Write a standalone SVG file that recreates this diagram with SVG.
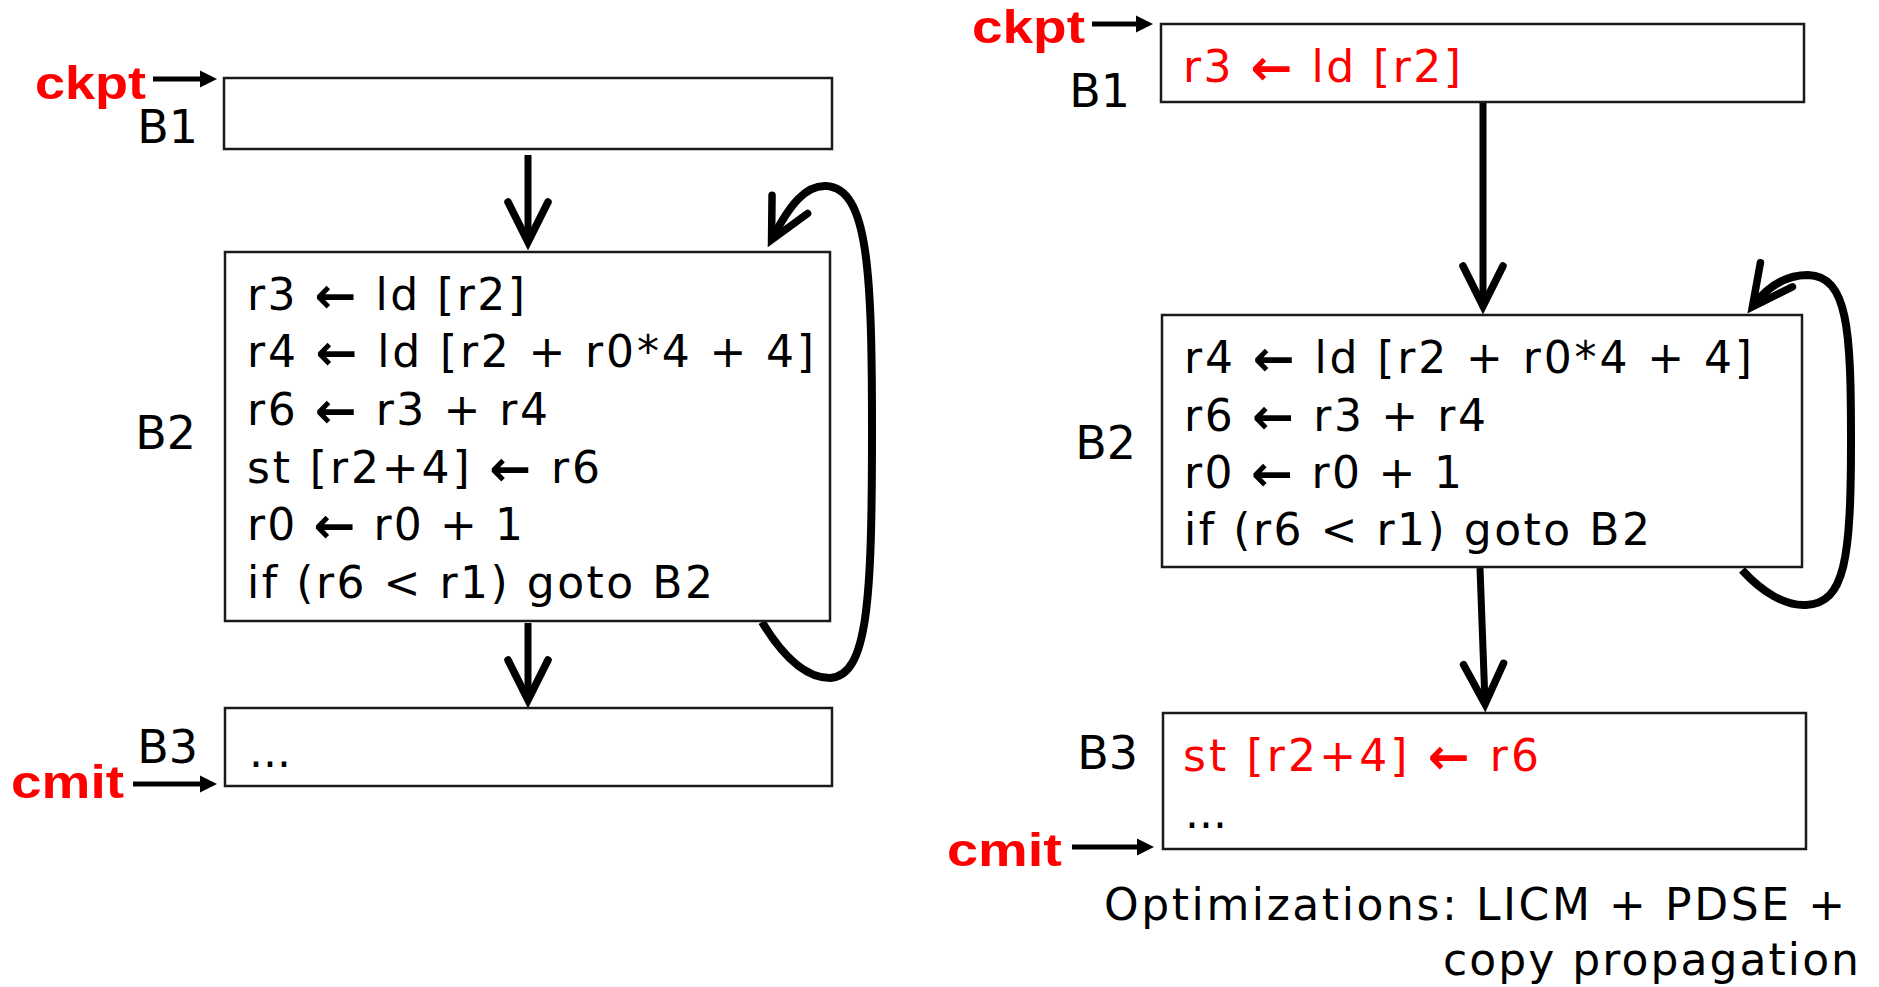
<svg xmlns="http://www.w3.org/2000/svg" width="1879" height="987" viewBox="0 0 1879 987">
<style>
.box{fill:#fff;stroke:#1a1a1a;stroke-width:2.5}
.lbl{font-family:"DejaVu Sans",Verdana,sans-serif;font-size:46px;fill:#000;text-anchor:end}
.code{font-family:"DejaVu Sans",Verdana,sans-serif;font-size:44px;fill:#000}
.arr{font-size:50px;font-weight:bold}
.red{fill:#ff0000}
.tag{font-family:"Liberation Sans",Arial,sans-serif;font-weight:bold;font-size:46px;fill:#ff0000}
.note{font-family:"DejaVu Sans",Verdana,sans-serif;font-size:44px;fill:#000}
.flow{fill:none;stroke:#000;stroke-width:7;marker-end:url(#chev)}
.loop{fill:none;stroke:#000;stroke-width:8;marker-end:url(#chev)}
.ptr{fill:none;stroke:#000;stroke-width:5;marker-end:url(#tri)}
</style>
<defs>
<marker id="chev" markerUnits="userSpaceOnUse" orient="auto" viewBox="-60 -30 80 60" markerWidth="80" markerHeight="60" refX="0" refY="0" overflow="visible">
<path d="M-39,-20 L1,0 L-39,20" fill="none" stroke="#000" stroke-width="7.5" stroke-linecap="round" stroke-linejoin="miter"/>
</marker>
<marker id="tri" markerUnits="userSpaceOnUse" orient="auto" viewBox="-20 -10 30 20" markerWidth="30" markerHeight="20" refX="0" refY="0" overflow="visible">
<path d="M-3,-8.5 L14,0 L-3,8.5 Z" fill="#000"/>
</marker>
</defs>
<rect width="1879" height="987" fill="#fff"/>

<g id="connectors">
<path class="flow" d="M528,155 L528,241"/>
<path class="flow" d="M528,623 L528,699"/>
<path class="loop" d="M762,622 C785,660 808,678 830,678 C868,676 872,600 872,430 C872,270 868,188 826,186 C806,185 790,204 772,239"/>
<path class="flow" d="M1483,102 L1483,305"/>
<path class="flow" d="M1480,568 L1485,703"/>
<path class="loop" d="M1742,570 C1762,592 1785,606 1806,605 C1845,603 1851,560 1851,440 C1851,330 1848,276 1808,275 C1785,275 1768,286 1753,306"/>
<path class="ptr" d="M153,79 L203,79"/>
<path class="ptr" d="M133,784 L203,784"/>
<path class="ptr" d="M1092,24 L1139,24"/>
<path class="ptr" d="M1072,847 L1140,847"/>
</g>

<g id="left-ckpt"><text class="tag" x="35" y="99" textLength="111" lengthAdjust="spacingAndGlyphs">ckpt</text></g>
<g id="left-cmit"><text class="tag" x="11" y="798" textLength="113" lengthAdjust="spacingAndGlyphs">cmit</text></g>

<g id="left-B1">
<rect class="box" x="224" y="78" width="608" height="71"/>
<text class="lbl" x="198" y="143">B1</text>
</g>

<g id="left-B2">
<rect class="box" x="225" y="252" width="605" height="369"/>
<text class="lbl" x="196" y="449">B2</text>
<text class="code" x="247" y="310" textLength="278">r3 <tspan class="arr" dy="3">←</tspan><tspan dy="-3"> ld [r2]</tspan></text>
<text class="code" x="247" y="367" textLength="567">r4 <tspan class="arr" dy="3">←</tspan><tspan dy="-3"> ld [r2 + r0*4 + 4]</tspan></text>
<text class="code" x="247" y="425" textLength="301">r6 <tspan class="arr" dy="3">←</tspan><tspan dy="-3"> r3 + r4</tspan></text>
<text class="code" x="247" y="483" textLength="353">st [r2+4] <tspan class="arr" dy="3">←</tspan><tspan dy="-3"> r6</tspan></text>
<text class="code" x="247" y="540" textLength="276">r0 <tspan class="arr" dy="3">←</tspan><tspan dy="-3"> r0 + 1</tspan></text>
<text class="code" x="247" y="598" textLength="466">if (r6 &lt; r1) goto B2</text>
</g>

<g id="left-B3">
<rect class="box" x="225" y="708" width="607" height="78"/>
<text class="lbl" x="198" y="763">B3</text>
<text class="code" x="249" y="767">...</text>
</g>

<g id="right-ckpt"><text class="tag" x="972" y="43" textLength="113" lengthAdjust="spacingAndGlyphs">ckpt</text></g>
<g id="right-cmit"><text class="tag" x="947" y="866" textLength="115" lengthAdjust="spacingAndGlyphs">cmit</text></g>

<g id="right-B1">
<rect class="box" x="1161" y="24" width="643" height="78"/>
<text class="lbl" x="1130" y="107">B1</text>
<text class="code red" x="1183" y="82" textLength="278">r3 <tspan class="arr" dy="3">←</tspan><tspan dy="-3"> ld [r2]</tspan></text>
</g>

<g id="right-B2">
<rect class="box" x="1162" y="315" width="640" height="252"/>
<text class="lbl" x="1136" y="459">B2</text>
<text class="code" x="1184" y="373" textLength="568">r4 <tspan class="arr" dy="3">←</tspan><tspan dy="-3"> ld [r2 + r0*4 + 4]</tspan></text>
<text class="code" x="1184" y="431" textLength="302">r6 <tspan class="arr" dy="3">←</tspan><tspan dy="-3"> r3 + r4</tspan></text>
<text class="code" x="1184" y="488" textLength="278">r0 <tspan class="arr" dy="3">←</tspan><tspan dy="-3"> r0 + 1</tspan></text>
<text class="code" x="1184" y="545" textLength="466">if (r6 &lt; r1) goto B2</text>
</g>

<g id="right-B3">
<rect class="box" x="1163" y="713" width="643" height="136"/>
<text class="lbl" x="1138" y="769">B3</text>
<text class="code red" x="1183" y="771" textLength="356">st [r2+4] <tspan class="arr" dy="3">←</tspan><tspan dy="-3"> r6</tspan></text>
<text class="code" x="1185" y="828">...</text>
</g>

<g id="caption">
<text class="note" x="1104" y="920" textLength="741">Optimizations: LICM + PDSE +</text>
<text class="note" x="1443" y="975" textLength="416">copy propagation</text>
</g>
</svg>
